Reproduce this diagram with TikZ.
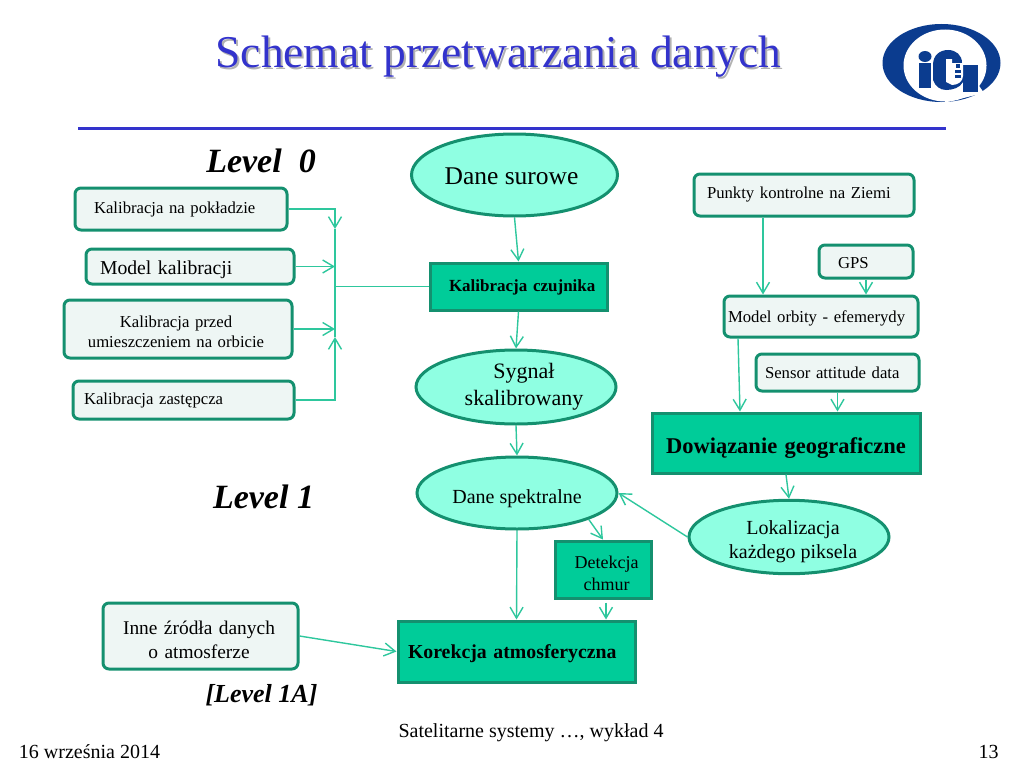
\documentclass[tikz,border=0pt]{standalone}
\usepackage{fontspec}
\setmainfont{Liberation Serif}
\usetikzlibrary{shapes.geometric,arrows.meta}

\definecolor{rulablue}{HTML}{3333CC}
\definecolor{logoblue}{HTML}{0B3C8F}
\definecolor{liniagreen}{HTML}{14906F}
\definecolor{strzalkagreen}{HTML}{2EC79D}
\definecolor{owalfill}{HTML}{8FFFE2}
\definecolor{ramkafill}{HTML}{EEF6F4}
\definecolor{blokfill}{HTML}{00CC99}

\newcommand{\fsz}[2]{\fontsize{#1}{#2}\selectfont}
\newcommand{\nizej}[1]{\rule{0pt}{#1pt}}

\tikzset{
    ramka/.style={draw=liniagreen, line width=3pt, rounded corners=6pt, fill=ramkafill,
        inner xsep=0pt, inner ysep=0pt, align=left, font=\fsz{16.7}{20}},
    owal/.style={ellipse, draw=liniagreen, line width=3pt, fill=owalfill,
        inner sep=0pt, align=center, font=\fsz{20}{24}},
    blok/.style={draw=liniagreen, line width=3pt, fill=blokfill,
        inner xsep=0pt, inner ysep=0pt, align=left, font=\fsz{17}{22}},
    strzalka/.style={draw=strzalkagreen, line width=1.4pt, -{Straight Barb[length=11pt,width=13pt]}},
    linia/.style={draw=strzalkagreen, line width=1.4pt},
    poziom/.style={font=\fsz{34}{40}\bfseries\itshape},
    stopka/.style={font=\fsz{20}{24}}
}

\begin{document}
\begin{tikzpicture}[x=1pt,y=-1pt]
    \useasboundingbox (0,0) rectangle (1024,768);

    % Tytul
    \node (cien) at (500.5,59) [font=\fsz{45.5}{50}, text=black!30] {Schemat przetwarzania danych};
    \node (tytul) at (498.5,57) [font=\fsz{45.5}{50}, text=rulablue] {Schemat przetwarzania danych};
    \draw[line width=3pt, rulablue] (78,128) -- (946,128);

    % Logo
    \fill[logoblue] (941.5,63) ellipse (59 and 39);
    \fill[white] (945,65.5) ellipse (41.5 and 36);
    \fill[white] (945,102.5) -- (984,93) -- (975,80) -- (945,90) -- cycle;
    \fill[logoblue] (925,56.5) ellipse (6.5 and 5.5);
    \fill[logoblue] (919,63) rectangle (931,88);
    \fill[logoblue] (933,80) -- (933,65) .. controls (933,55) and (940,50) .. (948,50)
        .. controls (956,50) and (962,55) .. (962,63) -- (963,82)
        .. controls (960,88) and (952,90) .. (946,90) .. controls (940,90) and (935,86) .. (933,80) -- cycle;
    \fill[logoblue] (963,65) rectangle (978,92);
    \fill[white] (946,59) -- (952,59) -- (952,63) -- (963,63) -- (963,76)
        .. controls (963,82) and (957,85) .. (952,85) -- (946,82) -- cycle;
    \fill[logoblue] (955.5,64) rectangle (959.5,68);
    \fill[logoblue] (954.5,70) rectangle (960.5,73);
    \fill[logoblue] (954.5,75) rectangle (960.5,78);

    % Poziomy
    \node (level0) at (261,161) [poziom] {Level\ \ 0};
    \node (level1) at (263.5,497) [poziom] {Level 1};
    \node (level1a) at (261.5,695) [poziom, font=\fsz{26}{30}\bfseries\itshape] {[Level 1A]};

    % Kalibracja - lewa strona
    \node (pokladzie) at (181,209) [ramka, text width=212pt, minimum height=42pt] {\nizej{13.4}\hspace*{19pt}Kalibracja na pokładzie};
    \node (model) at (190,266.5) [ramka, text width=208pt, minimum height=35pt, font=\fsz{19.7}{24}] {\nizej{19.4}\hspace*{14pt}Model kalibracji};
    \node (przed) at (178,329) [ramka, text width=228pt, minimum height=58pt, align=center] {\nizej{17.3}\hspace*{-4pt}Kalibracja przed\\ \hspace*{-4pt}umieszczeniem na orbicie};
    \node (zastepcza) at (183.5,400) [ramka, text width=221pt, minimum height=38pt] {\hspace*{11pt}Kalibracja zastępcza};

    % Srodek
    \node (surowe) at (514.5,175) [owal, minimum width=206pt, minimum height=82pt, font=\fsz{25.5}{30}] {\nizej{19}\hspace*{-6pt}Dane surowe};
    \node (czujnik) at (518.5,286.5) [blok, text width=177pt, minimum height=47pt, font=\fsz{17}{20}\bfseries] {\nizej{13.6}\hspace*{19pt}Kalibracja czujnika};
    \node (sygnal) at (516,387) [owal, minimum width=200pt, minimum height=74pt, font=\fsz{22}{27}] {\hspace*{16pt}Sygnał\\ \hspace*{16pt}skalibrowany};
    \node (spektralne) at (517,493) [owal, minimum width=200pt, minimum height=72pt] {\nizej{25.6}Dane spektralne};
    \node (chmury) at (603,569.5) [blok, text width=96pt, minimum height=57pt, align=center, font=\fsz{18}{22}] {\nizej{20.2}\hspace*{7pt}Detekcja\\ \hspace*{7pt}chmur};
    \node (korekcja) at (516.5,651.5) [blok, text width=237pt, minimum height=61pt, font=\fsz{19.8}{24}\bfseries] {\nizej{17.5}\hspace*{10pt}Korekcja atmosferyczna};
    \node (inne) at (200.5,636) [ramka, text width=195pt, minimum height=66pt, align=center, font=\fsz{19.4}{24}] {\nizej{21.2}\hspace*{-3pt}Inne źródła danych\\ \hspace*{-3pt}o atmosferze};

    % Prawa strona
    \node (punkty) at (804,195) [ramka, text width=220pt, minimum height=42pt] {\hspace*{13pt}Punkty kontrolne na Ziemi};
    \node (gps) at (866,261.5) [ramka, text width=94pt, minimum height=33pt] {\nizej{14}\hspace*{19pt}GPS};
    \node (orbita) at (821,316.5) [ramka, text width=194pt, minimum height=41pt] {\nizej{15.3}\hspace*{4pt}Model orbity - efemerydy};
    \node (sensor) at (837.5,372.5) [ramka, text width=163pt, minimum height=37pt] {\hspace*{9pt}Sensor attitude data};
    \node (geo) at (786,443) [blok, text width=268pt, minimum height=60pt, font=\fsz{22.5}{27}\bfseries] {\nizej{25.3}\hspace*{14pt}Dowiązanie geograficzne};
    \node (lokalizacja) at (789,537) [owal, minimum width=200pt, minimum height=72pt] {\nizej{23.6}\hspace*{8pt}Lokalizacja\\ \hspace*{8pt}każdego piksela};

    % Stopka
    \node (wyklad) at (531,733) [stopka] {Satelitarne systemy …, wykład 4};
    \node (data) at (89.5,752) [stopka] {16 września 2014};
    \node (numer) at (988.5,752) [stopka] {13};

    % Szyna kalibracji
    \coordinate (szynaA) at (335,229);
    \coordinate (szynaB) at (335,337);
    \coordinate (szynaM) at (335,286.5);
    \draw[linia] (szynaA) -- (szynaB);
    \draw[strzalka] (pokladzie.east) -| (szynaA);
    \draw[strzalka] (model.east) -- (model.east -| szynaA);
    \draw[strzalka] (przed.east) -- (przed.east -| szynaA);
    \draw[strzalka] (zastepcza.east) -| (szynaB);
    \draw[linia] (czujnik.west) -- (szynaM);

    % Strzalki srodek
    \draw[strzalka] (surowe.south) -- (czujnik.north);
    \draw[strzalka] (czujnik.south) -- (sygnal.north);
    \draw[strzalka] (sygnal.south) -- (spektralne.north);
    \draw[strzalka] (spektralne.south) -- (korekcja.north);
    \draw[strzalka] (spektralne.south east) -- (chmury.north);
    \draw[strzalka, shorten <=3pt] ([xshift=3pt]chmury.south) -- ([xshift=3pt]chmury.south |- korekcja.north);
    \draw[strzalka] (inne.east) -- (korekcja.west);

    % Strzalki prawa strona
    \draw[strzalka] ([xshift=-41pt]punkty.south) -- ([xshift=-58pt]orbita.north);
    \draw[strzalka] (gps.south) -- (gps.south |- orbita.north);
    \draw[strzalka] ([xshift=-83pt]orbita.south) -- ([xshift=-46pt]geo.north);
    \draw[strzalka] (sensor.south) -- (sensor.south |- geo.north);
    \draw[strzalka] (geo.south) -- (lokalizacja.north);
    \draw[strzalka] (lokalizacja.west) -- (spektralne.east);
\end{tikzpicture}
\end{document}
